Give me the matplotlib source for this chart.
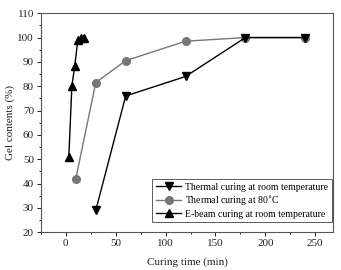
import matplotlib
matplotlib.use("Agg")
import matplotlib.pyplot as plt
from matplotlib.ticker import MultipleLocator

plt.rcParams['font.family'] = ['Liberation Serif', 'DejaVu Serif']

rt_x = [30, 60, 120, 180, 240]
rt_y = [29, 76, 84, 100, 100]
t80_x = [10, 30, 60, 120, 180, 240]
t80_y = [42, 81.5, 90.5, 98.5, 100, 100]
eb_x = [3, 6, 9, 12, 15, 18]
eb_y = [51, 80, 88.5, 99, 100, 100]

labels = ["Thermal curing at room temperature",
          "Thermal curing at 80$^{\\circ}$C",
          "E-beam curing at room temperature"]

fig = plt.figure(figsize=(3.41, 2.70), dpi=100)
ax = fig.add_axes([0.120, 0.140, 0.857, 0.811])

ax.plot(rt_x, rt_y, color='black', marker='v', markersize=5.5, linewidth=1.0, label=labels[0], zorder=3)
ax.plot(t80_x, t80_y, color='#777777', marker='o', markersize=5.5, linewidth=1.0, label=labels[1], zorder=2)
ax.plot(eb_x, eb_y, color='black', marker='^', markersize=5.5, linewidth=1.0, label=labels[2], zorder=3)

ax.set_xlim(-25, 268)
ax.set_ylim(20, 110)
ax.xaxis.set_major_locator(MultipleLocator(50))
ax.xaxis.set_minor_locator(MultipleLocator(25))
ax.yaxis.set_major_locator(MultipleLocator(10))
ax.yaxis.set_minor_locator(MultipleLocator(5))
ax.tick_params(which='major', direction='out', length=3, width=0.7, labelsize=8, colors='#222222', pad=2)
ax.tick_params(which='minor', direction='out', length=1.5, width=0.6)
for s in ax.spines.values():
    s.set_color('#555555')
    s.set_linewidth(0.8)

ax.set_xlabel("Curing time (min)", fontsize=8, labelpad=7, color='#222222')
ax.set_ylabel("Gel contents (%)", fontsize=8, labelpad=2, color='#222222')

leg = ax.legend(loc='lower right', fontsize=7, frameon=True, fancybox=False,
                edgecolor='#333333', borderpad=0.4, labelspacing=0.2, handlelength=2.6,
                handletextpad=0.4, borderaxespad=0.1, bbox_to_anchor=(1.0, 0.04))
leg.get_frame().set_linewidth(0.7)

fig.savefig("out.png", dpi=100)
